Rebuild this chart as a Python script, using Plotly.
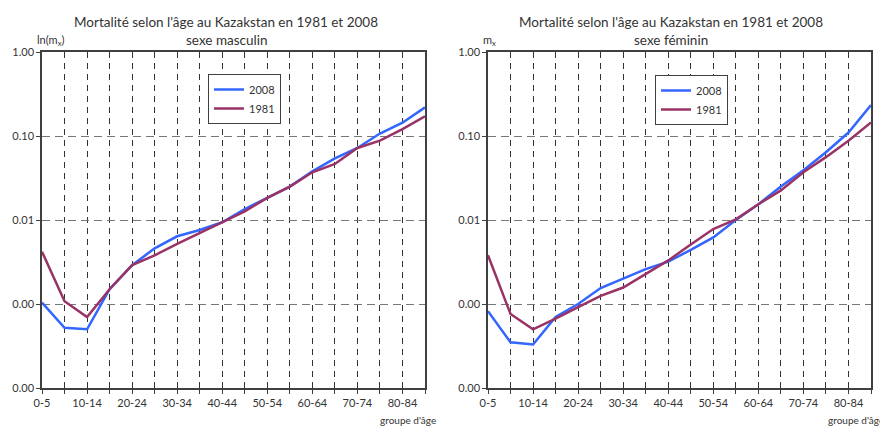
import plotly.graph_objects as go

categories = ["0-5", "5-9", "10-14", "15-19", "20-24", "25-29", "30-34", "35-39", "40-44",
              "45-49", "50-54", "55-59", "60-64", "65-69", "70-74", "75-79", "80-84", "85+"]
tick_labels = ["0-5", "10-14", "20-24", "30-34", "40-44", "50-54", "60-64", "70-74", "80-84"]

male_2008 = [0.00104, 0.00052, 0.0005, 0.0015, 0.0029, 0.0046, 0.0064, 0.0076, 0.0094,
             0.0135, 0.0183, 0.025, 0.038, 0.054, 0.072, 0.107, 0.144, 0.219]
male_1981 = [0.0042, 0.00108, 0.0007, 0.0015, 0.0029, 0.0038, 0.0052, 0.007, 0.0094,
             0.0127, 0.0183, 0.025, 0.037, 0.0465, 0.072, 0.088, 0.121, 0.172]
female_2008 = [0.00082, 0.00035, 0.00033, 0.0007, 0.001, 0.00155, 0.002, 0.0026, 0.0032,
               0.0044, 0.0062, 0.01, 0.0154, 0.025, 0.039, 0.064, 0.11, 0.233]
female_1981 = [0.0038, 0.00076, 0.0005, 0.00067, 0.00092, 0.00125, 0.00157, 0.0023, 0.0033,
               0.0051, 0.0078, 0.0102, 0.0154, 0.0225, 0.037, 0.056, 0.088, 0.145]

y_tickvals = [0.0001, 0.001, 0.01, 0.1, 1.0]
y_ticktext = ["0.00", "0.00", "0.01", "0.10", "1.00"]

BLUE = "#3366FF"
PURPLE = "#993366"
FONT = "Lato"
OFF = 8  # page body margin
W, H = 888 - OFF, 427 - OFF


def px(x):
    return (x - OFF) / W


def py(y):
    return 1 - (y - OFF) / H


xpos = list(range(len(categories)))
label_pos = [xpos[categories.index(t)] for t in tick_labels]

fig = go.Figure()
for xa, ya, lg, s08, s81 in [("x", "y", "legend", male_2008, male_1981),
                              ("x2", "y2", "legend2", female_2008, female_1981)]:
    fig.add_trace(go.Scatter(x=xpos, y=s08, name="2008", mode="lines", customdata=categories,
                             hovertemplate="%{customdata}: %{y}<extra>2008</extra>",
                             line=dict(color=BLUE, width=2.5), xaxis=xa, yaxis=ya, legend=lg))
    fig.add_trace(go.Scatter(x=xpos, y=s81, name="1981", mode="lines", customdata=categories,
                             hovertemplate="%{customdata}: %{y}<extra>1981</extra>",
                             line=dict(color=PURPLE, width=2.5), xaxis=xa, yaxis=ya, legend=lg))

ydom = [py(388), py(52)]
xcommon = dict(type="linear", range=[0, len(categories) - 1], tickmode="array",
               tickvals=label_pos, ticktext=tick_labels, ticks="outside", ticklen=4,
               tickcolor="#404040",
               minor=dict(tickmode="array", tickvals=xpos, ticks="outside", ticklen=4,
                          tickcolor="#404040", showgrid=True, gridcolor="#333333",
                          gridwidth=1, griddash="6px,5px"),
               showline=True, linecolor="#404040", linewidth=1.5, mirror=True,
               showgrid=True, gridcolor="#333333", gridwidth=1, griddash="6px,5px",
               tickfont=dict(family=FONT, size=11, color="#333333"), zeroline=False,
               automargin=False)
ycommon = dict(type="log", range=[-4, 0], tickmode="array", tickvals=y_tickvals,
               ticktext=y_ticktext, ticks="outside", ticklen=4, tickcolor="#404040",
               showline=True, linecolor="#404040", linewidth=1.5, mirror=True,
               showgrid=True, gridcolor="#777777", gridwidth=1, griddash="8px,5px",
               tickfont=dict(family=FONT, size=11, color="#333333"), zeroline=False,
               automargin=False)

fig.update_layout(
    width=W, height=H, autosize=False,
    margin=dict(l=0, r=0, t=0, b=0, pad=0, autoexpand=False),
    paper_bgcolor="white", plot_bgcolor="white",
    font=dict(family=FONT, size=11, color="#333333"),
    xaxis=dict(domain=[px(42), px(425)], anchor="y", **xcommon),
    yaxis=dict(domain=ydom, anchor="x", **ycommon),
    xaxis2=dict(domain=[px(488), px(871)], anchor="y2", **xcommon),
    yaxis2=dict(domain=ydom, anchor="x2", **ycommon),
    legend=dict(x=px(208), y=py(74), xanchor="left", yanchor="top",
                bgcolor="white", bordercolor="#404040", borderwidth=1,
                font=dict(family=FONT, size=11, color="#333333"),
                itemwidth=30, tracegroupgap=0),
    legend2=dict(x=px(655), y=py(75), xanchor="left", yanchor="top",
                 bgcolor="white", bordercolor="#404040", borderwidth=1,
                 font=dict(family=FONT, size=11, color="#333333"),
                 itemwidth=30, tracegroupgap=0),
    showlegend=True,
)

title_main = "Mortalité selon l'âge au Kazakstan en 1981 et 2008"


def ann(text, x, y, size, xanchor="center"):
    return dict(text=text, x=px(x), y=py(y), xref="paper", yref="paper",
                xanchor=xanchor, yanchor="middle", showarrow=False,
                font=dict(family=FONT, size=size, color="#333333"))


annotations = [
    ann(title_main, 226, 22, 13.5),
    ann("sexe masculin", 226, 40, 13.5),
    ann(title_main, 671, 22, 13.5),
    ann("sexe féminin", 671, 40, 13.5),
    ann("ln(m<sub>x</sub>)", 35, 40, 11, "left"),
    ann("m<sub>x</sub>", 481, 40, 11, "left"),
    ann("groupe d'âge", 438, 420, 10, "right"),
    ann("groupe d'âge", 886, 420, 10, "right"),
]
fig.update_layout(annotations=annotations)

fig.write_html("out.html")
